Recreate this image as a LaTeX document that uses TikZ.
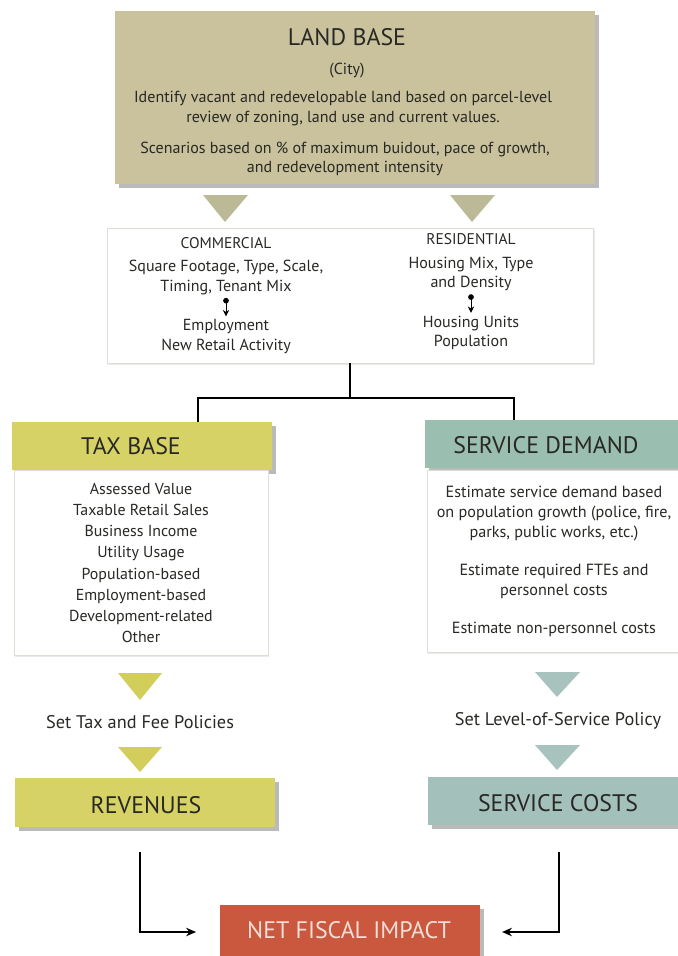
\documentclass[tikz,border=0pt]{standalone}
\usepackage{fontspec}
\setmainfont{PT Sans}
\usetikzlibrary{arrows.meta,shadows}

\definecolor{landtan}{RGB}{201,194,157}
\definecolor{landtri}{RGB}{188,186,150}
\definecolor{taxyel}{RGB}{214,210,102}
\definecolor{taxtri}{RGB}{211,206,92}
\definecolor{servgrn}{RGB}{154,190,176}
\definecolor{servgry}{RGB}{164,192,186}
\definecolor{servtri}{RGB}{168,194,190}
\definecolor{netred}{RGB}{201,88,62}
\definecolor{boxline}{RGB}{222,222,210}
\definecolor{inkgray}{RGB}{40,40,36}

\tikzset{
  hdshadow/.style={drop shadow={shadow xshift=2.5pt,shadow yshift=-3pt,opacity=0.45,fill=black!60}},
  headbox/.style={anchor=north west,inner sep=0pt,outer sep=0pt,hdshadow},
  bodybox/.style={anchor=north west,inner sep=0pt,outer sep=0pt,fill=white,draw=boxline,line width=0.6pt,drop shadow={shadow xshift=1pt,shadow yshift=-1.5pt,opacity=0.2,fill=black!40}},
  headtext/.style={font=\fontsize{17}{20}\selectfont,text=inkgray,inner sep=1pt},
  bodytext/.style={align=center,font=\fontsize{11.4}{14}\selectfont,text=inkgray,inner sep=2pt},
  linkline/.style={draw=black,line width=1.2pt},
  smallarrow/.style={draw=black,line width=0.7pt,{Circle[length=4pt,width=4pt]}-{Stealth[length=4.5pt,width=4.5pt]}},
  flowarrow/.style={draw=black,line width=1.2pt,-{Stealth[length=7pt,width=6pt]}}
}

\begin{document}
\begin{tikzpicture}[x=0.025cm,y=-0.025cm,font=\fontsize{11.4}{14}\selectfont]
\clip (0,0) rectangle (678,956);
\node[headbox,fill=landtan,minimum width=12cm,minimum height=4.325cm] (landbase) at (115,11) {};
\node[headtext] (landtitle) at (347,37) {LAND BASE};
\node[bodytext] (landcity) at (347,71) {(City)};
\node[bodytext] (landreview) at (343,108.5) {Identify vacant and redevelopable land based on parcel-level\\review of zoning, land use and current values.};
\node[bodytext] (landscen) at (345,159) {Scenarios based on \% of maximum buidout, pace of growth,\\and redevelopment intensity};
\path[fill=landtri,draw=none] (203,195) -- (248,195) -- (225,222) -- cycle;
\path[fill=landtri,draw=none] (450,195) -- (495,195) -- (472,222) -- cycle;
\node[bodybox,minimum width=12.15cm,minimum height=3.375cm] (devbox) at (107,228) {};
\node[bodytext,font=\fontsize{11}{13}\selectfont] (comtitle) at (226,243) {COMMERCIAL};
\node[bodytext] (comsize) at (226,277.5) {Square Footage, Type, Scale,\\Timing, Tenant Mix};
\node[bodytext] (comjobs) at (226,336.5) {Employment\\New Retail Activity};
\node[bodytext,font=\fontsize{11}{13}\selectfont] (restitle) at (471,239) {RESIDENTIAL};
\node[bodytext] (resmix) at (471,274) {Housing Mix, Type\\and Density};
\node[bodytext] (resunits) at (471,333) {Housing Units\\Population};
\draw[smallarrow] (comsize.south) -- (comjobs.north);
\draw[smallarrow] (resmix.south) -- (resunits.north);
\node[headbox,fill=taxyel,minimum width=6.5cm,minimum height=1.2cm] (taxhead) at (12,422) {};
\node[headtext] (taxtitle) at (131,446) {TAX BASE};
\node[bodybox,minimum width=6.35cm,minimum height=4.625cm] (taxbody) at (14,470) {};
\node[bodytext,font=\fontsize{11.3}{15.1}\selectfont] (taxlist) at (141,563) {Assessed Value\\Taxable Retail Sales\\Business Income\\Utility Usage\\Population-based\\Employment-based\\Development-related\\Other};
\node[headbox,fill=servgrn,minimum width=6.45cm,minimum height=1.2cm] (servhead) at (425,420) {};
\node[headtext] (servtitle) at (546,445) {SERVICE DEMAND};
\node[bodybox,minimum width=6.4cm,minimum height=4.55cm] (servbody) at (427,470) {};
\node[bodytext,font=\fontsize{11.5}{14.2}\selectfont] (servlist) at (554,561) {Estimate service demand based\\on population growth (police, fire,\\parks, public works, etc.)\\[12.8pt]Estimate required FTEs and\\personnel costs\\[12.8pt]Estimate non-personnel costs};
\coordinate (split) at (devbox.south |- 0,398);
\draw[linkline] (devbox.south) -- (split);
\draw[linkline] (split) -| ([xshift=1.4cm]taxhead.north);
\draw[linkline] (split) -| ([xshift=-1cm]servhead.north);
\path[fill=taxtri,draw=none] (118,673) -- (162,673) -- (140,700) -- cycle;
\node[bodytext,font=\fontsize{13}{15}\selectfont] (taxpolicy) at (140,722) {Set Tax and Fee Policies};
\path[fill=taxtri,draw=none] (118,747) -- (162,747) -- (140,772) -- cycle;
\path[fill=servtri,draw=none] (535,672) -- (580,672) -- (557,697) -- cycle;
\node[bodytext,font=\fontsize{13}{15}\selectfont] (servpolicy) at (558,721) {Set Level-of-Service Policy};
\path[fill=servtri,draw=none] (535,745) -- (580,745) -- (557,770) -- cycle;
\node[headbox,fill=taxyel,minimum width=6.5cm,minimum height=1.225cm] (revenues) at (15,778) {};
\node[headtext] (revtitle) at (146,805) {REVENUES};
\node[headbox,fill=servgry,minimum width=6.4cm,minimum height=1.2cm] (servcosts) at (428,777) {};
\node[headtext] (coststitle) at (558,803) {SERVICE COSTS};
\node[headbox,fill=netred,minimum width=6.5cm,minimum height=1.5cm] (netfiscal) at (220,905) {};
\node[headtext,text=netred!20!white] (nettitle) at (349,930) {NET FISCAL IMPACT};
\coordinate (revout) at (140,852);
\coordinate (costout) at (559,852);
\draw[flowarrow] (revout) |- ([xshift=-0.6cm,yshift=0.075cm]netfiscal.west);
\draw[flowarrow] (costout) |- ([xshift=0.55cm,yshift=0.075cm]netfiscal.east);
\end{tikzpicture}
\end{document}
